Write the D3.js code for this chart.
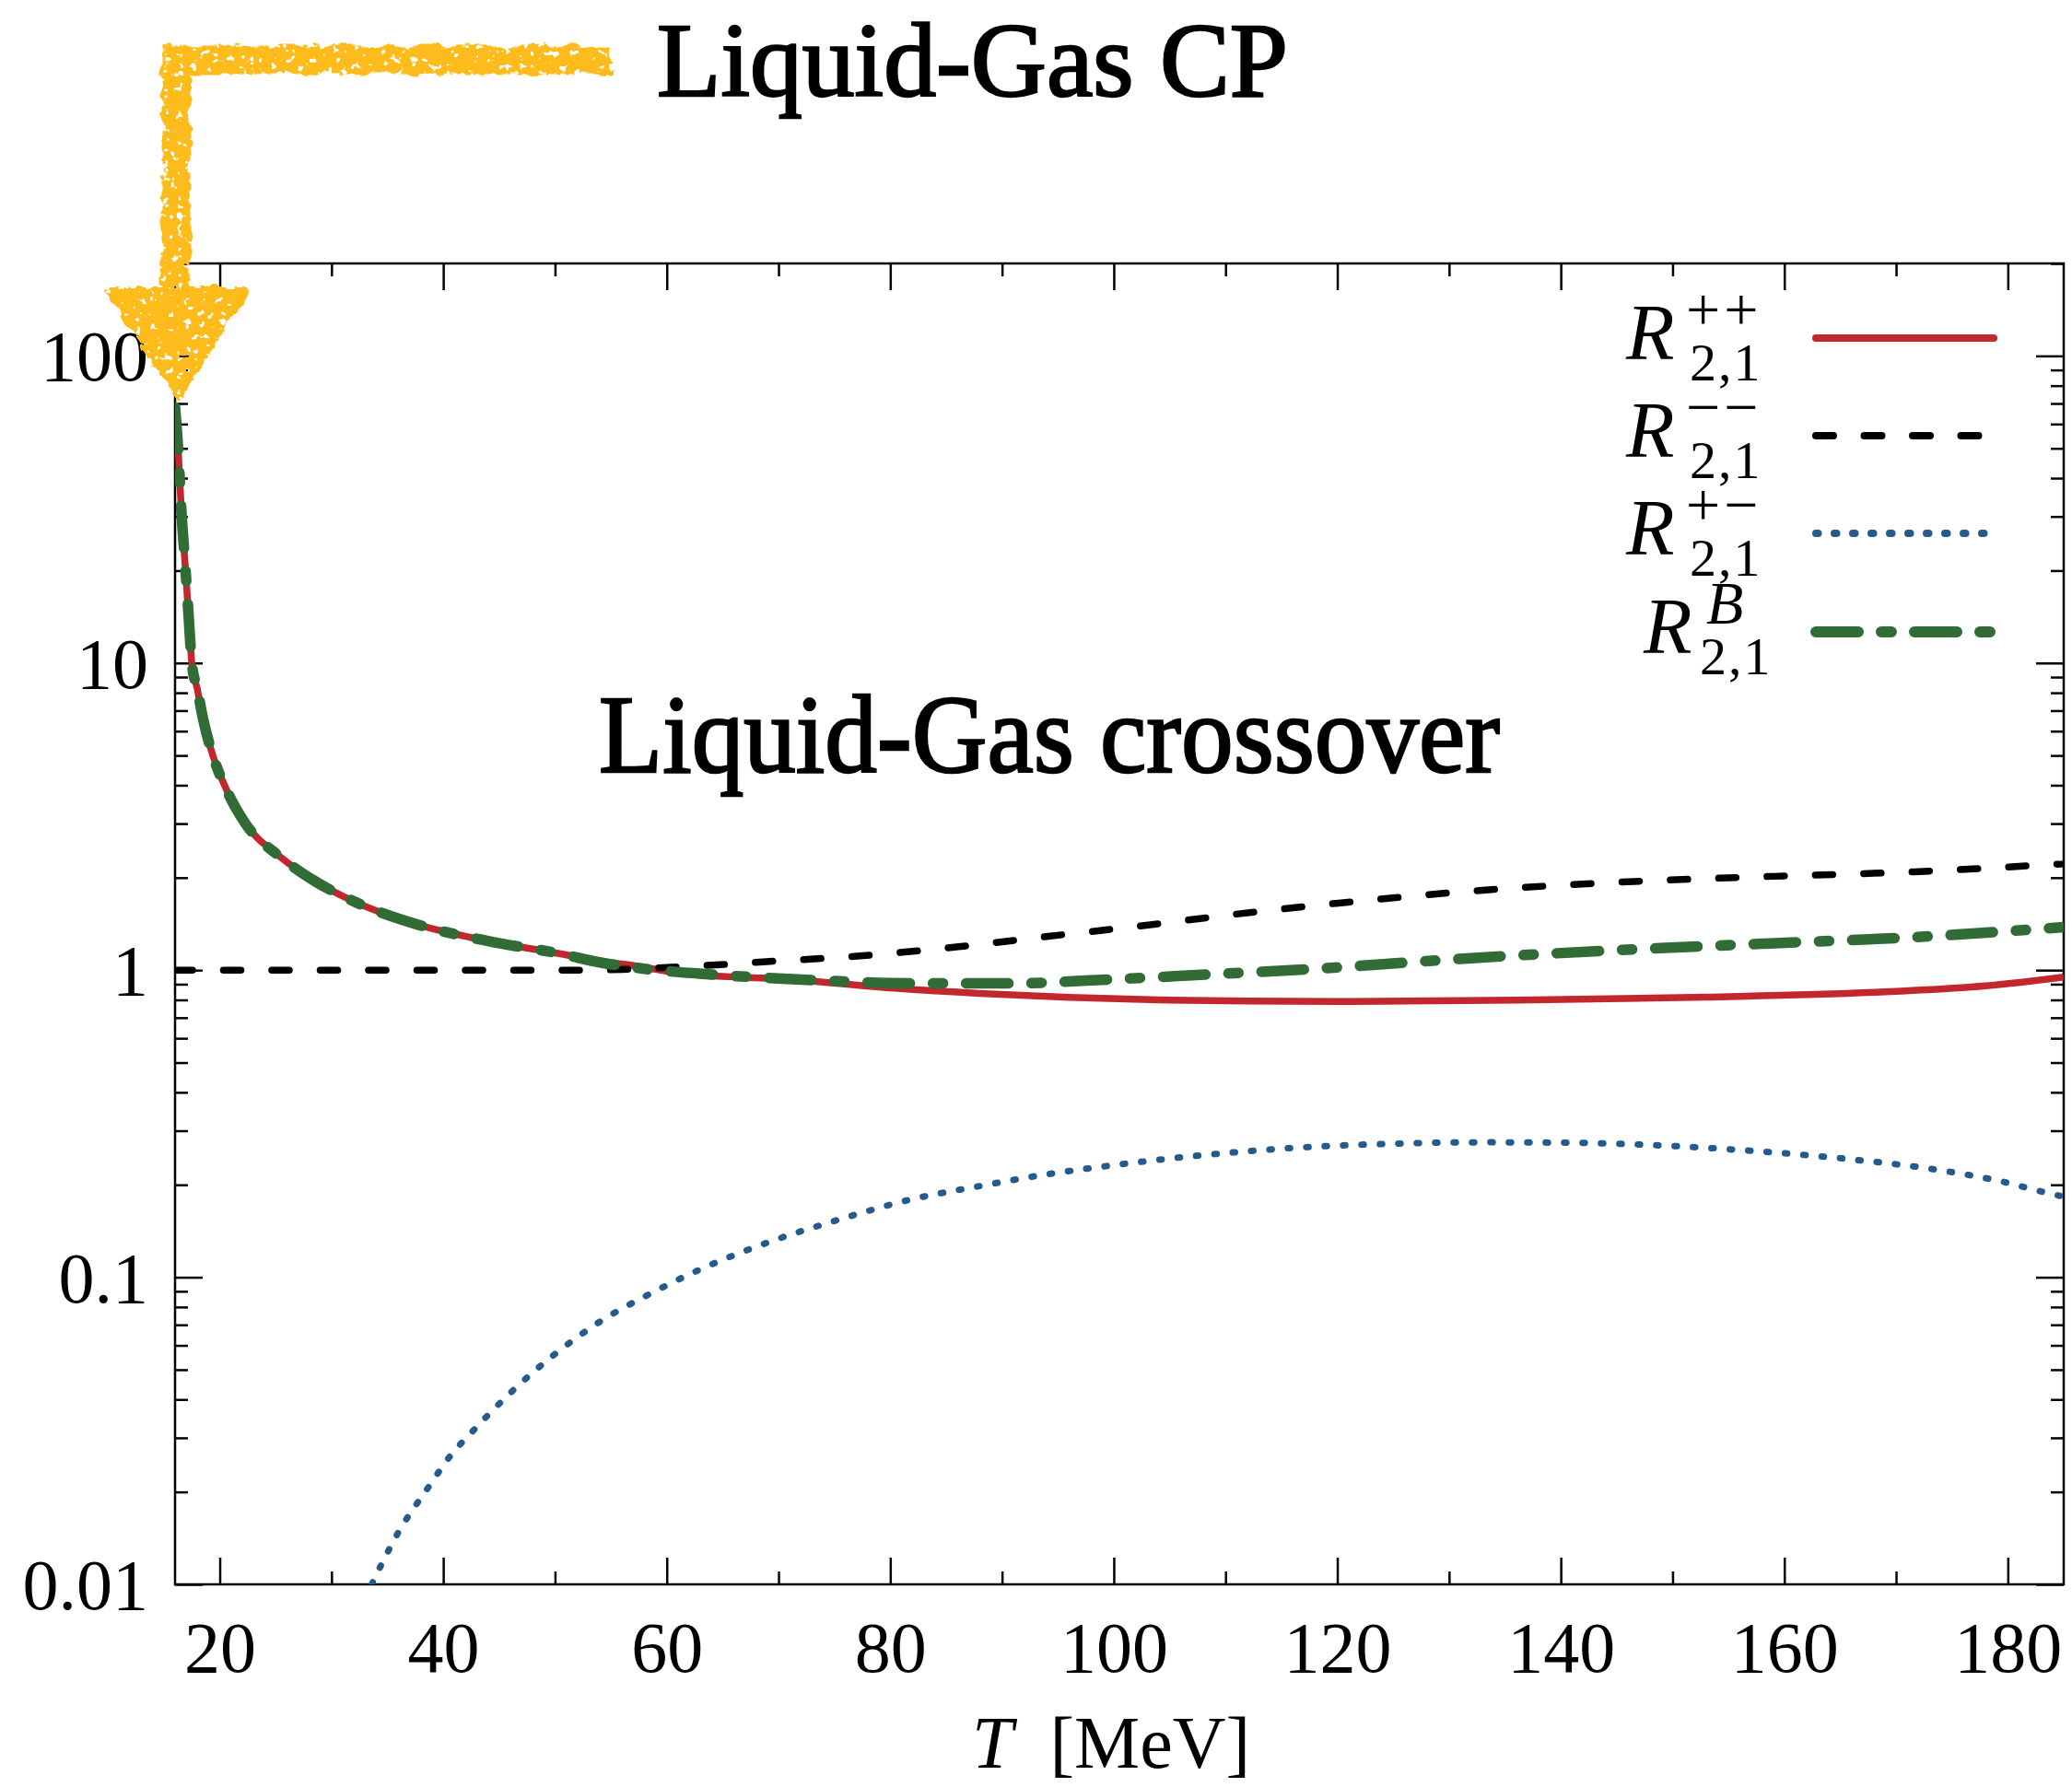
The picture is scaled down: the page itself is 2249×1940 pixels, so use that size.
<!DOCTYPE html>
<html><head><meta charset="utf-8">
<script src="https://cdn.jsdelivr.net/npm/d3@7"></script>
<style>body{margin:0;background:#fff}svg{display:block}</style>
</head><body>
<svg id="chart" width="2249" height="1940"></svg>
<script>
// ---------------- data ----------------
const T_pp = [16.0,16.3,16.55,16.9,17.2,17.5,18.0,18.5,19.1,20.7,22.3,25.4,28.5,31.6,37.9,44.2,50.5,54,57,62,71,80,88,96,104,112,120,136,153,170,178,185];
const R_pp = [68,48,32,21,14.5,10,8.2,6.6,5.4,3.8,3.0,2.34,1.95,1.70,1.40,1.24,1.13,1.07,1.035,0.97,0.933,0.875,0.84,0.815,0.80,0.793,0.79,0.798,0.817,0.853,0.889,0.95];

const T_mm = [16,30,45,52,56,60,64.4,68.6,77,85.9,94.3,102.9,111.5,119.9,133,146,159,171.6,185];
const R_mm = [1,1,1,1,1.005,1.02,1.04,1.064,1.11,1.19,1.29,1.40,1.53,1.65,1.82,1.94,2.02,2.09,2.22];

const T_pm = [33.6,35.95,38.7,40.6,42.8,46.3,50.1,54,58.5,62.9,69.1,75.4,81.8,88.3,93.2,99.7,108.1,116.3,124.7,132.9,141.2,149.5,157.7,166,174.3,179.2,184.1,185];
const R_pm = [0.01,0.0147,0.0208,0.0261,0.032,0.043,0.0566,0.0716,0.0883,0.1057,0.130,0.154,0.179,0.199,0.214,0.231,0.250,0.264,0.272,0.275,0.274,0.268,0.257,0.242,0.222,0.206,0.186,0.183];

const T_B = [16.0,16.3,16.55,16.9,17.2,17.5,18.0,18.5,19.1,20.7,22.3,25.4,28.5,31.6,37.9,44.2,50.5,54,58,64.4,73.3,82.1,91,100.2,109,118,131.3,144.7,158.2,171.6,185];
const R_B = [68,48,32,21,14.5,10,8.2,6.6,5.4,3.8,3.0,2.34,1.95,1.70,1.40,1.24,1.13,1.06,1.01,0.966,0.927,0.906,0.906,0.935,0.97,1.01,1.09,1.16,1.22,1.28,1.38];

const xMajor = [20,40,60,80,100,120,140,160,180];
const xMinor = [30,50,70,90,110,130,150,170];
const yMajor = [0.01,0.1,1,10,100];
const yMajorLabels = ["0.01","0.1","1","10","100"];
const yMinor = [0.02,0.03,0.04,0.05,0.06,0.07,0.08,0.09,0.2,0.3,0.4,0.5,0.6,0.7,0.8,0.9,2,3,4,5,6,7,8,9,20,30,40,50,60,70,80,90,200];

const legendSup = ["++","\u2212\u2212","+\u2212","B"];
const legendSub = "2,1";
const titleText = "Liquid-Gas CP";
const annotText = "Liquid-Gas crossover";

// ---------------- layout ----------------
const L = 190, R = 2240, TOP = 286, BOT = 1720;
const FONT = "'Liberation Serif','Times New Roman',serif";
const svg = d3.select("#chart");

const x = d3.scaleLinear().domain([16,185]).range([L,R]);
const y = d3.scaleLog().domain([0.01,200]).range([BOT,TOP]);

// defs
const defs = svg.append("defs");
defs.append("clipPath").attr("id","plotclip").append("rect")
  .attr("x",L).attr("y",TOP).attr("width",R-L).attr("height",BOT-TOP);
const f = defs.append("filter").attr("id","chalk").attr("x","-20%").attr("y","-20%").attr("width","140%").attr("height","140%");
f.append("feTurbulence").attr("type","fractalNoise").attr("baseFrequency","0.07").attr("numOctaves",3).attr("seed",7).attr("result","n1");
f.append("feDisplacementMap").attr("in","SourceGraphic").attr("in2","n1").attr("scale",12).attr("xChannelSelector","R").attr("yChannelSelector","G").attr("result","d");
f.append("feTurbulence").attr("type","fractalNoise").attr("baseFrequency","0.13").attr("numOctaves",2).attr("seed",2).attr("result","n2");
f.append("feColorMatrix").attr("in","n2").attr("type","matrix").attr("values","0 0 0 0 0  0 0 0 0 0  0 0 0 0 0  0 0 0 -16 11.2").attr("result","mask");
f.append("feComposite").attr("in","d").attr("in2","mask").attr("operator","in");

// axes
function styleAxis(g){
  g.select(".domain").remove();
  g.selectAll(".tick line").attr("stroke","#000").attr("stroke-width",2.5);
  g.selectAll("text").attr("font-family",FONT).attr("font-size",78).attr("fill","#000");
}
const gxB = svg.append("g").attr("transform",`translate(0,${BOT})`)
  .call(d3.axisBottom(x).tickValues(xMajor).tickSizeInner(-29).tickSizeOuter(0).tickPadding(0).tickFormat(d3.format("d")));
styleAxis(gxB);
gxB.selectAll("text").attr("y",95).attr("dy",0);
svg.append("g").attr("transform",`translate(0,${BOT})`)
  .call(d3.axisBottom(x).tickValues(xMinor).tickSizeInner(-14).tickSizeOuter(0).tickFormat("")).call(styleAxis);
svg.append("g").attr("transform",`translate(0,${TOP})`)
  .call(d3.axisTop(x).tickValues(xMajor).tickSizeInner(-29).tickSizeOuter(0).tickFormat("")).call(styleAxis);
svg.append("g").attr("transform",`translate(0,${TOP})`)
  .call(d3.axisTop(x).tickValues(xMinor).tickSizeInner(-14).tickSizeOuter(0).tickFormat("")).call(styleAxis);

const gyL = svg.append("g").attr("transform",`translate(${L},0)`)
  .call(d3.axisLeft(y).tickValues(yMajor).tickSizeInner(-30).tickSizeOuter(0).tickPadding(29)
    .tickFormat((d,i)=>yMajorLabels[i]));
styleAxis(gyL);
gyL.selectAll("text").attr("dy","0.34em");
svg.append("g").attr("transform",`translate(${L},0)`)
  .call(d3.axisLeft(y).tickValues(yMinor).tickSizeInner(-14).tickSizeOuter(0).tickFormat("")).call(styleAxis);
svg.append("g").attr("transform",`translate(${R},0)`)
  .call(d3.axisRight(y).tickValues(yMajor).tickSizeInner(-30).tickSizeOuter(0).tickFormat("")).call(styleAxis);
svg.append("g").attr("transform",`translate(${R},0)`)
  .call(d3.axisRight(y).tickValues(yMinor).tickSizeInner(-14).tickSizeOuter(0).tickFormat("")).call(styleAxis);

// frame
svg.append("rect").attr("x",L).attr("y",TOP).attr("width",R-L).attr("height",BOT-TOP)
  .attr("fill","none").attr("stroke","#000").attr("stroke-width",2.5);

// series
const styles = [
  {color:"#C1272D", width:7.5, dash:null},
  {color:"#000000", width:7.5, dash:"19 33.5"},
  {color:"#245A8C", width:7, dash:"2.5 17.5"},
  {color:"#316B35", width:11.5, dash:"46 25 11 25"}
];
const series = [
  d3.zip(T_pp,R_pp), d3.zip(T_mm,R_mm), d3.zip(T_pm,R_pm), d3.zip(T_B,R_B)
];
const line = d3.line().x(d=>x(d[0])).y(d=>y(d[1])).curve(d3.curveMonotoneX);
const gLines = svg.append("g").attr("clip-path","url(#plotclip)");
series.forEach((s,i)=>{
  const st = styles[i];
  gLines.append("path").datum(s).attr("d",line)
    .attr("fill","none").attr("stroke",st.color).attr("stroke-width",st.width)
    .attr("stroke-linecap", st.dash ? "round" : "butt").attr("stroke-linejoin","round")
    .attr("stroke-dasharray", st.dash);
});

// legend
const legRows = [367,473,579,686];
const legX0 = 1971, legX1 = 2164;
const gLeg = svg.append("g");
legRows.forEach((ry,i)=>{
  const st = styles[i];
  gLeg.append("line").attr("x1",legX0).attr("x2",legX1).attr("y1",ry).attr("y2",ry)
    .attr("stroke",st.color).attr("stroke-width",i===3?12:8)
    .attr("stroke-linecap","round").attr("stroke-dasharray",st.dash);
  const rx = i===3 ? 1784 : 1765;
  const base = ry + 23;
  const t = gLeg.append("text").attr("x",rx).attr("y",base).attr("font-family",FONT);
  t.append("tspan").attr("font-style","italic").attr("font-size",86).text("R");
  const sup = t.append("tspan").attr("x", i===3 ? 1852 : 1830).attr("dy",-32)
    .attr("font-size",66).text(legendSup[i]);
  if(i===3) sup.attr("font-style","italic");
  else sup.attr("letter-spacing",4);
  t.append("tspan").attr("x", i===3 ? 1845 : 1834).attr("dy",55)
    .attr("font-size",58).attr("letter-spacing",2).text(legendSub);
});

// x-axis title
const xt = svg.append("text").attr("x",1206).attr("y",1919).attr("text-anchor","middle")
  .attr("font-family",FONT).attr("font-size",80);
xt.append("tspan").attr("font-style","italic").text("T");
xt.append("tspan").text("\u2002[MeV]");

// annotation texts
svg.append("text").attr("x",713).attr("y",104).text(titleText)
  .attr("font-family",FONT).attr("font-size",114).attr("stroke","#000").attr("stroke-width",2.4)
  .attr("textLength",685).attr("lengthAdjust","spacingAndGlyphs");
svg.append("text").attr("x",650).attr("y",838).text(annotText)
  .attr("font-family",FONT).attr("font-size",120).attr("stroke","#000").attr("stroke-width",2.4)
  .attr("textLength",978).attr("lengthAdjust","spacingAndGlyphs");

// hand-drawn arrow
const gArrow = svg.append("g").attr("filter","url(#chalk)");
gArrow.append("path").attr("d","M663,65 L191,65 L191,318")
  .attr("fill","none").attr("stroke","#FDBB1A").attr("stroke-width",31).attr("stroke-linejoin","miter");
gArrow.append("path").attr("d","M117,315 L267,315 L194,432 Z").attr("fill","#FDBB1A")
  .attr("stroke","#FDBB1A").attr("stroke-width",6).attr("stroke-linejoin","round");
</script>
</body></html>
